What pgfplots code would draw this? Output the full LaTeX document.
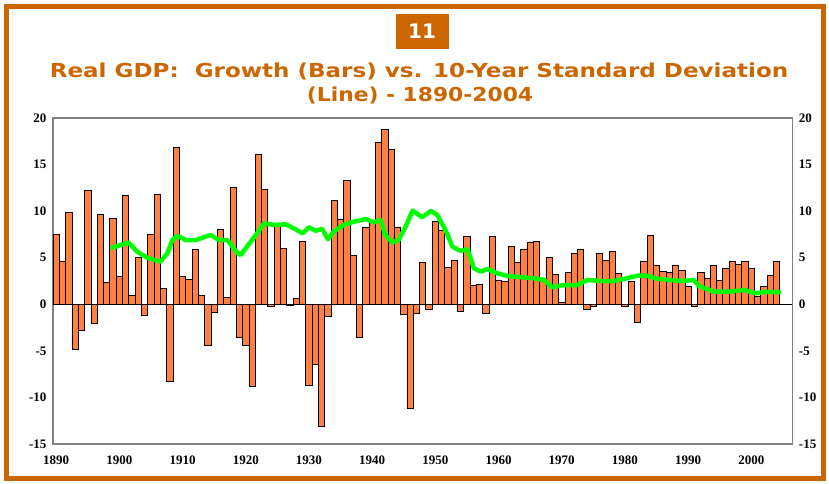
\documentclass[border=0pt]{standalone}
\usepackage{pgfplots}
\pgfplotsset{compat=1.18}
\usepackage{pgfplotstable}
\usepackage{fontspec}
\setmainfont{Liberation Serif}
\newfontfamily\titlefont{DejaVu Sans}
\definecolor{titleorange}{HTML}{CC6600}
\definecolor{barorange}{HTML}{FF8040}
\definecolor{linegreen}{HTML}{00FF00}
\pgfplotstableread{
year g
1890 7.45
1891 4.65
1892 9.85
1893 -4.83
1894 -2.79
1895 12.24
1896 -2.04
1897 9.67
1898 2.36
1899 9.24
1900 2.97
1901 11.64
1902 1.0
1903 5.08
1904 -1.22
1905 7.55
1906 11.8
1907 1.68
1908 -8.3
1909 16.83
1910 2.97
1911 2.69
1912 5.84
1913 1.0
1914 -4.44
1915 -0.86
1916 8.06
1917 0.75
1918 12.5
1919 -3.58
1920 -4.44
1921 -8.81
1922 16.08
1923 12.32
1924 -0.21
1925 8.5
1926 6.0
1927 -0.1
1928 0.64
1929 6.77
1930 -8.66
1931 -6.44
1932 -13.07
1933 -1.25
1934 11.1
1935 9.13
1936 13.25
1937 5.26
1938 -3.51
1939 8.27
1940 8.8
1941 17.4
1942 18.8
1943 16.68
1944 8.3
1945 -1.1
1946 -11.17
1947 -0.93
1948 4.51
1949 -0.54
1950 8.9
1951 7.9
1952 4.0
1953 4.73
1954 -0.72
1955 7.27
1956 2.04
1957 2.15
1958 -0.93
1959 7.27
1960 2.61
1961 2.43
1962 6.19
1963 4.51
1964 5.94
1965 6.62
1966 6.7
1967 2.6
1968 5.01
1969 3.22
1970 0.2
1971 3.44
1972 5.41
1973 5.94
1974 -0.5
1975 -0.2
1976 5.41
1977 4.73
1978 5.69
1979 3.29
1980 -0.2
1981 2.5
1982 -1.97
1983 4.65
1984 7.38
1985 4.22
1986 3.54
1987 3.44
1988 4.22
1989 3.65
1990 1.93
1991 -0.2
1992 3.44
1993 2.76
1994 4.15
1995 2.61
1996 3.8
1997 4.65
1998 4.3
1999 4.58
2000 3.8
2001 0.85
2002 1.93
2003 3.12
2004 4.58
}\gdptab
\pgfplotstableread{
x sd
1898.9 6.08
1900.2 6.37
1901.5 6.62
1902.8 5.65
1904.4 5.0
1906.5 4.58
1907.6 5.47
1908.4 6.9
1909.2 7.37
1910.5 6.9
1912.1 6.9
1914.4 7.44
1915.8 6.9
1917.1 6.9
1918.7 5.5
1919.2 5.3
1920.8 6.73
1921.8 7.62
1922.9 8.7
1924.5 8.52
1926.3 8.59
1927.6 8.16
1929.0 7.62
1930.0 8.27
1931.1 7.9
1932.1 8.09
1933.0 6.98
1933.9 7.8
1935.5 8.52
1937.1 8.87
1939.0 9.16
1940.3 8.8
1941.3 9.05
1942.1 7.44
1943.2 6.62
1944.2 6.9
1945.3 8.34
1946.4 10.06
1947.9 9.34
1949.3 10.02
1950.3 9.59
1951.6 7.98
1952.7 6.19
1954.0 5.73
1955.1 5.9
1956.1 3.87
1957.2 3.5
1958.2 3.8
1959.8 3.33
1961.4 3.04
1963.5 2.92
1965.6 2.79
1967.2 2.61
1968.5 1.83
1970.3 2.07
1972.5 2.07
1974.0 2.61
1976.2 2.5
1978.3 2.5
1979.8 2.72
1982.0 3.07
1983.5 3.07
1985.0 2.75
1987.0 2.61
1989.1 2.5
1990.9 2.61
1991.7 1.97
1994.1 1.35
1996.5 1.35
1998.8 1.54
2000.7 1.18
2002.3 1.35
2004.4 1.29
}\sdtab
\begin{document}
\begin{tikzpicture}[x=1pt,y=1pt]
\path[use as bounding box] (0,0) rectangle (829,483);
\fill[white] (0,0) rectangle (829,483);
\draw[titleorange, line width=5pt] (6.5,4.5) rectangle (823,476.5);
\node[fill=titleorange, text=white, minimum width=53pt, minimum height=35pt, inner sep=0pt,
      font=\titlefont\bfseries\fontsize{20}{20}\selectfont] at (422,451.5) {11};
\node[text=titleorange, anchor=base, inner sep=0pt,
      font=\titlefont\bfseries\fontsize{19.2}{20}\selectfont] at (419,405.7)
      {\scalebox{1.2}[1]{Real GDP:\ \ Growth (Bars) vs. 10-Year Standard Deviation}};
\node[text=titleorange, anchor=base, inner sep=0pt,
      font=\titlefont\bfseries\fontsize{19.2}{20}\selectfont] at (420,381.3)
      {\scalebox{1.135}[1]{(Line) - 1890-2004}};
\begin{axis}[at={(53pt,39pt)}, anchor=south west, scale only axis,
  width=739.4pt, height=326pt,
  xmin=1889.5, xmax=2006.5, ymin=-15, ymax=20,
  axis line style={draw=gray, line width=1.2pt},
  tick style={draw=none},
  xtick={1890,1900,1910,1920,1930,1940,1950,1960,1970,1980,1990,2000},
  xticklabels={1890,1900,1910,1920,1930,1940,1950,1960,1970,1980,1990,2000},
  ytick={-15,-10,-5,0,5,10,15,20},
  yticklabels={-15,-10,-5,0,5,10,15,20},
  ticklabel style={font=\bfseries\fontsize{13}{13}\selectfont},
  xticklabel style={yshift=-8pt},
  yticklabel style={xshift=-3pt},
]
\addplot[ybar, bar width=1, bar shift=0pt, fill=barorange, draw=black, line width=0.8pt] table[x=year, y=g] {\gdptab};
\draw[black, line width=1.2pt] (axis cs:1889.5,0) -- (axis cs:2006.5,0);
\addplot[linegreen, line width=4.5pt, line join=round, line cap=round] table[x=x, y=sd] {\sdtab};
\end{axis}
\begin{axis}[at={(53pt,39pt)}, anchor=south west, scale only axis,
  width=739.4pt, height=326pt,
  xmin=1889.5, xmax=2006.5, ymin=-15, ymax=20,
  axis x line=none, axis y line*=right,
  axis line style={draw=gray, line width=1.2pt},
  tick style={draw=none},
  ytick={-15,-10,-5,0,5,10,15,20},
  yticklabels={-15,-10,-5,0,5,10,15,20},
  ticklabel style={font=\bfseries\fontsize{13}{13}\selectfont},
  yticklabel style={xshift=3pt},
]
\addplot[draw=none] coordinates {(1890,0)};
\end{axis}
\end{tikzpicture}
\end{document}
